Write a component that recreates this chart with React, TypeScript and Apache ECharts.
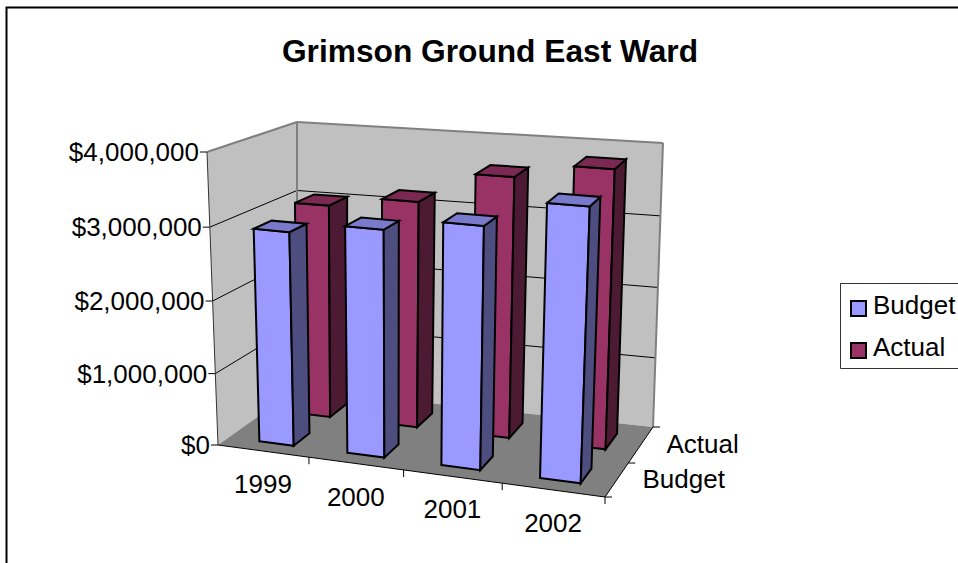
import React, { useEffect, useRef } from "react";
import * as echarts from "echarts";

const categories = ["1999", "2000", "2001", "2002"];
const rows = ["Budget", "Actual"];
const budget = [2950000, 3100000, 3270000, 3640000];
const actual = [3050000, 3200000, 3640000, 3840000];
const valueTicks = [0, 1000000, 2000000, 3000000, 4000000];
const valueLabels = ["$0", "$1,000,000", "$2,000,000", "$3,000,000", "$4,000,000"];
const title = "Grimson Ground East Ward";
const rowColors = ["#9999ff", "#993366"];

const FONT = "'Liberation Sans', Arial, sans-serif";
const GRID = 400;
type P = [number, number];
// corners of the 3D box on screen: [u][v][w]
const c000: P = [218, 445], c100: P = [605, 497], c001: P = [297, 389], c101: P = [653, 427];
const c010: P = [207, 152], c110: P = [617, 187], c011: P = [297, 122], c111: P = [663, 143];
const warp = (t: number, r: number) => t / (t + (1 - t) * r);
const mix = (a: P, b: P, t: number): P => [a[0] + (b[0] - a[0]) * t, a[1] + (b[1] - a[1]) * t];
function proj(u: number, v: number, w: number): P {
  const U = warp(u, 1.085), V = warp(v, 1.035), W = warp(w, 1.06);
  const b0 = mix(mix(c000, c100, U), mix(c001, c101, U), W);
  const t0 = mix(mix(c010, c110, U), mix(c011, c111, U), W);
  return mix(b0, t0, V);
}
const uOf = (px: number) => px / GRID;
const vOf = (py: number) => (GRID - py) / GRID;
const barU = (u: number) => u + 0.016 * Math.pow(1 - u, 5);

const wallRender = (_: any, api: any) => {
  const poly = (pts: P[], fill: string) => ({ type: "polygon", shape: { points: pts }, style: { fill, stroke: "none" } });
  const line = (a: P, b: P, stroke: string, lineWidth = 1) => ({
    type: "line",
    shape: { x1: a[0], y1: a[1], x2: b[0], y2: b[1] },
    style: { stroke, lineWidth, fill: "none" },
  });
  const text = (t: string, x: number, y: number, align: string) => ({
    type: "text",
    style: { text: t, x, y, align, verticalAlign: "middle", fill: "#000", font: `26px ${FONT}` },
  });
  const band = api.size([1, 0])[0];
  const children: any[] = [
    poly([proj(0, 0, 0), proj(0, 1, 0), proj(0, 1, 1), proj(0, 0, 1)], "#c0c0c0"),
    poly([proj(0, 0, 1), proj(0, 1, 1), proj(1, 1, 1), proj(1, 0, 1)], "#c0c0c0"),
    poly([proj(0, 0, 0), proj(1, 0, 0), proj(1, 0, 1), proj(0, 0, 1)], "#808080"),
  ];
  valueTicks.forEach((t, i) => {
    const v = vOf(api.coord([0, t])[1]);
    const a = proj(0, v, 0), b = proj(0, v, 1), c = proj(1, v, 1);
    if (i > 0 && i < valueTicks.length - 1) {
      children.push(line(a, b, "#000"), line(b, c, "#000"));
    }
    children.push(line([a[0] - 7, a[1]], a, "#000"));
    children.push(text(valueLabels[i], a[0] - 8, a[1], "right"));
  });
  children.push(
    line(proj(0, 1, 0), proj(0, 1, 1), "#808080", 2),
    line(proj(0, 1, 1), proj(1, 1, 1), "#808080", 2),
    line(proj(0, 1, 1), proj(0, 0, 1), "#808080", 2),
    line(proj(1, 1, 1), proj(1, 0, 1), "#808080", 2),
    line(proj(0, 0, 0), proj(0, 1, 0), "#333", 1),
    line(proj(0, 0, 0), proj(1, 0, 0), "#000", 1),
    line(proj(1, 0, 0), proj(1, 0, 1), "#000", 1),
  );
  categories.forEach((name, i) => {
    const cx = api.coord([i, 0])[0];
    const e = proj(uOf(cx + band / 2), 0, 0);
    children.push(line(e, [e[0], e[1] + 7], "#000"));
    const m = proj(uOf(cx), 0, 0);
    children.push(text(name, m[0], m[1] + 33, "center"));
  });
  rows.forEach((name, r) => {
    const e0 = proj(1, 0, (r + 1) / rows.length);
    const e = proj(1, 0, (r + 0.5) / rows.length);
    children.push(line(e0, [e0[0] + 7, e0[1]], "#000"));
    children.push(text(name, e[0] + 26, e[1] - 1, "left"));
  });
  const e00 = proj(1, 0, 0);
  children.push(line(e00, [e00[0] + 7, e00[1]], "#000"));
  return { type: "group", children };
};

const barRender = (row: number, front: string, side: string, top: string) => (_: any, api: any) => {
  const cx = api.coord([api.value(0), 0])[0];
  const band = api.size([1, 0])[0];
  const v = vOf(api.coord([api.value(0), api.value(1)])[1]);
  const u0 = barU(uOf(cx - band * 0.2)), u1 = barU(uOf(cx + band * 0.2));
  const w0 = (row + 0.29) / rows.length, w1 = (row + 0.73) / rows.length;
  const face = (pts: P[], fill: string) => ({
    type: "polygon",
    shape: { points: pts },
    style: { fill, stroke: "#000", lineWidth: 2, lineJoin: "miter" },
  });
  return {
    type: "group",
    children: [
      face([proj(u0, 0, w0), proj(u1, 0, w0), proj(u1, v, w0), proj(u0, v, w0)], front),
      face([proj(u1, 0, w0), proj(u1, 0, w1), proj(u1, v, w1), proj(u1, v, w0)], side),
      face([proj(u0, v, w0), proj(u1, v, w0), proj(u1, v, w1), proj(u0, v, w1)], top),
    ],
  };
};

const toData = (vals: number[]) => vals.map((v, i) => [i, v]);

export default function App() {
  const ref = useRef<HTMLDivElement>(null);
  useEffect(() => {
    const chart = echarts.init(ref.current!, null, { renderer: "svg" });
    chart.setOption({
      animation: false,
      title: {
        text: title,
        left: 485,
        top: 30,
        textAlign: "center",
        textStyle: { fontFamily: FONT, fontWeight: "bold", fontSize: 31.7, color: "#000" },
      },
      graphic: [
        { type: "rect", z: -2, silent: true, shape: { x: 6.5, y: 7.5, width: 1000, height: 700 }, style: { fill: "#fff", stroke: "#000", lineWidth: 2 } },
        { type: "rect", z: -1, silent: true, shape: { x: 840.5, y: 283.5, width: 130, height: 85 }, style: { fill: "#fff", stroke: "#333", lineWidth: 1 } },
        ...rows.flatMap((name, i) => [
          { type: "rect", z: 5, silent: true, shape: { x: 851, y: 301 + i * 42, width: 15, height: 15 }, style: { fill: rowColors[i], stroke: "#000", lineWidth: 2 } },
          { type: "text", z: 5, silent: true, style: { text: name, x: 873, y: 305 + i * 42, align: "left", verticalAlign: "middle", fill: "#000", font: `26px ${FONT}` } },
        ]),
      ],
      grid: { left: 0, top: 0, width: GRID, height: GRID, show: false },
      xAxis: { type: "category", data: categories, show: false },
      yAxis: { type: "value", min: 0, max: 4000000, interval: 1000000, show: false },
      series: [
        { type: "custom", name: "frame", silent: true, z: 1, clip: false, data: [[0, 0]], renderItem: wallRender, encode: { x: 0, y: 1 } },
        { type: "custom", name: "Actual", silent: true, z: 2, clip: false, data: toData(actual), renderItem: barRender(1, rowColors[1], "#4d1a33", "#7a2952"), encode: { x: 0, y: 1 } },
        { type: "custom", name: "Budget", silent: true, z: 3, clip: false, data: toData(budget), renderItem: barRender(0, rowColors[0], "#4d4d80", "#7a7acc"), encode: { x: 0, y: 1 } },
      ],
    });
    return () => chart.dispose();
  }, []);
  return <div ref={ref} style={{ position: "absolute", left: 0, top: 0, width: 958, height: 563 }} />;
}
